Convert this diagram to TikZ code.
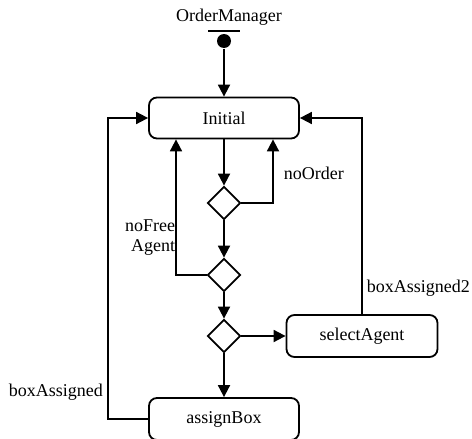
\documentclass[tikz,border=0pt]{standalone}
\usepackage{fontspec}
\setmainfont{Liberation Serif}
\usetikzlibrary{shapes.geometric,arrows.meta}
\begin{document}
\begin{tikzpicture}[x=1pt,y=-1pt,
 font=\fontsize{18}{20}\selectfont,
 line width=1.8pt,
 state/.style={draw, rounded corners=8pt, minimum width=150pt, minimum height=41pt, inner sep=0pt},
 choice/.style={draw, diamond, minimum width=33pt, minimum height=33pt, inner sep=0pt, fill=white},
 flow/.style={-{Triangle[length=12pt,width=12pt]}},
 lbl/.style={inner sep=0pt}]
\useasboundingbox (0,0) rectangle (472,439);
\node[lbl] (om) at (229,17) {OrderManager};
\draw (208,31) -- (240,31);
\node[circle, fill, minimum size=14pt, inner sep=0pt] (dot) at (224,41) {};
\node[state] (initial) at (224,118) {Initial};
\node[choice] (d1) at (224,203) {};
\node[choice] (d2) at (224,275) {};
\node[choice] (d3) at (224,336) {};
\node[state, minimum width=151pt, minimum height=42pt] (select) at (362,336) {selectAgent};
\node[state, minimum height=42pt] (assign) at (224,419) {assignBox};
\coordinate (xr) at (273,0);
\coordinate (xl) at (176,0);
\draw[flow] (dot) -- (initial);
\draw[flow] (initial) -- (d1);
\draw[flow] (d1) -- (d2);
\draw[flow] (d2) -- (d3);
\draw[flow] (d3) -- (assign);
\draw[flow] (d3) -- (select);
\draw[flow] (d1.east) -| (xr |- initial.south);
\draw[flow] (d2.west) -| (xl |- initial.south);
\draw[flow] (select.north) |- (initial.east);
\draw[flow] (assign.west) -- ++(-40,0) |- (initial.west);
\node[lbl, anchor=west] (lno) at (283,173) {noOrder};
\node[lbl, anchor=east, align=right] (lnf) at (176,238) {noFree\\Agent};
\node[lbl, anchor=west] (lba) at (8,392) {boxAssigned};
\node[lbl, anchor=west] (lba2) at (366,288) {boxAssigned2};
\end{tikzpicture}
\end{document}
